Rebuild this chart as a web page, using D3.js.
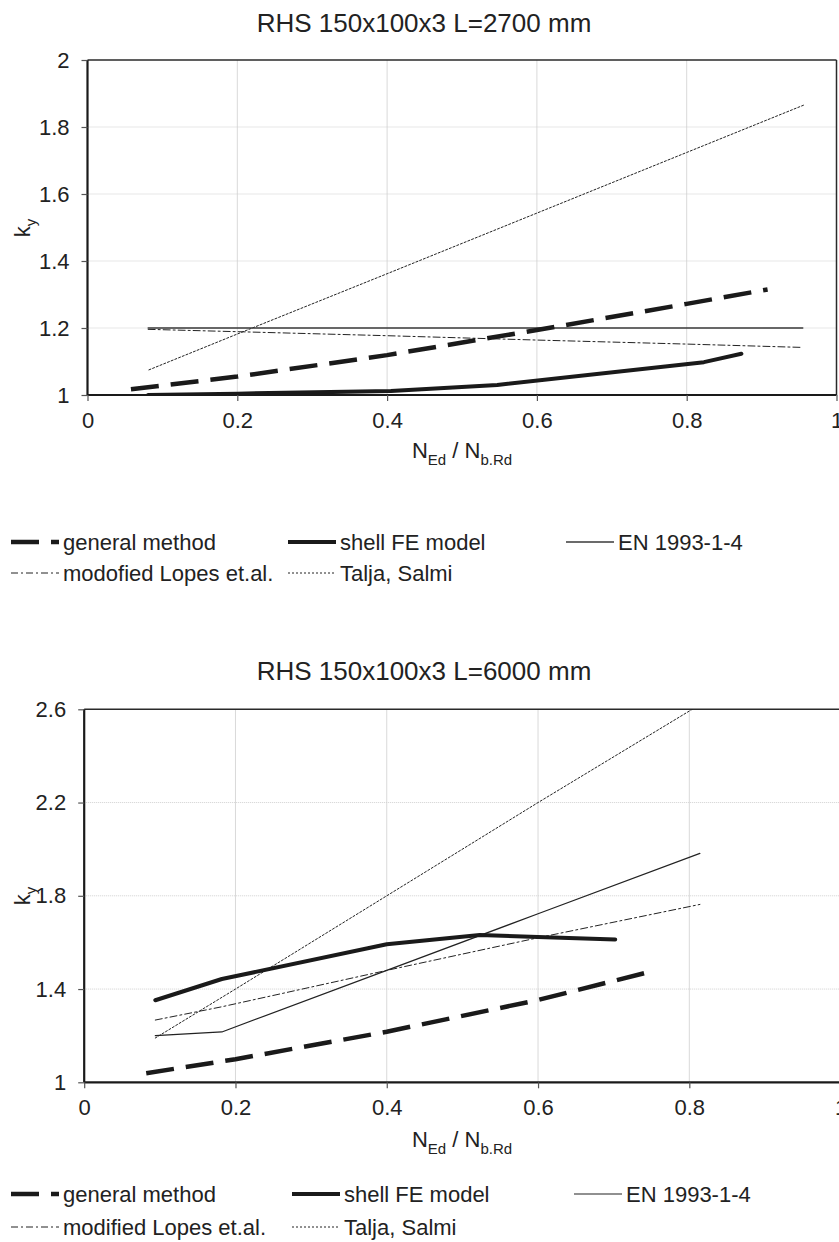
<!DOCTYPE html>
<html>
<head>
<meta charset="utf-8">
<script src="https://cdn.jsdelivr.net/npm/d3@7/dist/d3.min.js"></script>
<style>
  body { margin: 0; background: #fff; }
  svg { display: block; font-family: "Liberation Sans", Arial, sans-serif; }
</style>
</head>
<body>
<div id="chart"></div>
<script>
// --- data: upper chart, RHS 150x100x3 L=2700 mm ---
var generalA = [[0.058, 1.017], [0.2, 1.055], [0.4, 1.119], [0.6, 1.194], [0.8, 1.272], [0.908, 1.315]];
var shellA   = [[0.081, 1.0], [0.2, 1.004], [0.405, 1.012], [0.547, 1.03], [0.823, 1.098], [0.873, 1.123]];
var enA      = [[0.081, 1.2], [0.2, 1.2], [0.4, 1.2], [0.6, 1.2], [0.8, 1.2], [0.955, 1.2]];
var lopesA   = [[0.081, 1.196], [0.2, 1.189], [0.4, 1.177], [0.6, 1.164], [0.8, 1.152], [0.955, 1.142]];
var taljaA   = [[0.082, 1.075], [0.2, 1.182], [0.4, 1.362], [0.6, 1.543], [0.8, 1.724], [0.957, 1.866]];

// --- data: lower chart, RHS 150x100x3 L=6000 mm ---
var generalB = [[0.082, 1.039], [0.2, 1.099], [0.4, 1.217], [0.6, 1.353], [0.743, 1.47]];
var shellB   = [[0.094, 1.352], [0.182, 1.443], [0.4, 1.592], [0.523, 1.632], [0.6, 1.623], [0.702, 1.613]];
var enB      = [[0.094, 1.2], [0.182, 1.216], [0.4, 1.48], [0.6, 1.723], [0.814, 1.982]];
var lopesB   = [[0.094, 1.267], [0.182, 1.324], [0.4, 1.48], [0.6, 1.62], [0.814, 1.763]];
var taljaB   = [[0.094, 1.19], [0.2, 1.4], [0.4, 1.8], [0.6, 2.2], [0.814, 2.62]];

var xTicks  = [0, 0.2, 0.4, 0.6, 0.8, 1];
var yTicksA = [1, 1.2, 1.4, 1.6, 1.8, 2];
var yTicksB = [1, 1.4, 1.8, 2.2, 2.6];

var titleA = 'RHS 150x100x3 L=2700 mm';
var titleB = 'RHS 150x100x3 L=6000 mm';
var namesA = ['general method', 'shell FE model', 'EN 1993-1-4', 'modofied Lopes et.al.', 'Talja, Salmi'];
var namesB = ['general method', 'shell FE model', 'EN 1993-1-4', 'modified Lopes et.al.', 'Talja, Salmi'];

var styles = [
  { stroke: '#1a1a1a', width: 4.5, dash: '28,12' },
  { stroke: '#1a1a1a', width: 4, dash: null },
  { stroke: '#3a3a3a', width: 1.4, dash: null },
  { stroke: '#222', width: 1, dash: '7,3,2,3' },
  { stroke: '#222', width: 1, dash: '2,2' }
];

var W = 839, H = 1242;
var svg = d3.select('#chart').append('svg')
  .attr('width', W)
  .attr('height', H);

function drawPanel(cfg) {
  var g = svg.append('g');
  var x = d3.scaleLinear().domain([0, 1]).range([cfg.left, cfg.right]);
  var y = d3.scaleLinear().domain(cfg.yDomain).range([cfg.bottom, cfg.top]);

  var clipId = 'clip' + cfg.id;
  g.append('clipPath').attr('id', clipId)
    .append('rect')
    .attr('x', cfg.left).attr('y', cfg.top)
    .attr('width', cfg.right - cfg.left).attr('height', cfg.bottom - cfg.top);

  // grid
  g.selectAll('.vgrid').data(xTicks.slice(1, -1)).enter().append('line')
    .attr('x1', d => x(d)).attr('x2', d => x(d))
    .attr('y1', cfg.top).attr('y2', cfg.bottom)
    .attr('stroke', '#d9d9d9').attr('stroke-width', 1);
  g.selectAll('.hgrid').data(cfg.yTicks.slice(1, -1)).enter().append('line')
    .attr('x1', cfg.left).attr('x2', cfg.right)
    .attr('y1', d => y(d)).attr('y2', d => y(d))
    .attr('stroke', '#cfcfcf').attr('stroke-width', 1)
    .attr('stroke-dasharray', '1,1');

  // frame (top and right)
  g.append('line')
    .attr('x1', cfg.left).attr('x2', cfg.right)
    .attr('y1', cfg.top).attr('y2', cfg.top)
    .attr('stroke', '#2a2a2a').attr('stroke-width', 1.5);
  g.append('line')
    .attr('x1', cfg.right).attr('x2', cfg.right)
    .attr('y1', cfg.top).attr('y2', cfg.bottom)
    .attr('stroke', '#2a2a2a').attr('stroke-width', 1.5);

  // series
  var line = d3.line().x(d => x(d[0])).y(d => y(d[1]));
  var order = [4, 3, 2, 0, 1];
  order.forEach(function(i) {
    var st = cfg.styles ? cfg.styles[i] : styles[i];
    g.append('path')
      .datum(cfg.series[i])
      .attr('clip-path', 'url(#' + clipId + ')')
      .attr('d', line)
      .attr('fill', 'none')
      .attr('stroke', st.stroke)
      .attr('stroke-width', st.width)
      .attr('stroke-dasharray', st.dash)
      .attr('stroke-linejoin', 'round')
      .attr('stroke-linecap', i === 0 ? 'butt' : 'round');
  });

  // axes
  var xAxis = d3.axisBottom(x).tickValues(xTicks).tickSize(6).tickPadding(11)
    .tickFormat(d3.format('~g'));
  var gx = g.append('g').attr('transform', 'translate(0,' + cfg.bottom + ')').call(xAxis);
  var yAxis = d3.axisLeft(y).tickValues(cfg.yTicks).tickSize(6).tickPadding(12)
    .tickFormat(d3.format('~g'));
  var gy = g.append('g').attr('transform', 'translate(' + cfg.left + ',0)').call(yAxis);
  [gx, gy].forEach(function(a) {
    a.select('.domain').attr('stroke', '#1a1a1a').attr('stroke-width', 2.2);
    a.selectAll('.tick line').attr('stroke', '#555').attr('stroke-width', 1.2);
    a.selectAll('.tick text').attr('fill', '#222').style('font-size', '22px')
      .style('font-family', '"Liberation Sans", Arial, sans-serif');
  });
  gx.select('.domain').attr('d', 'M' + cfg.left + ',0H' + cfg.right);
  gy.select('.domain').attr('d', 'M0,' + cfg.bottom + 'V' + cfg.top);

  // title
  g.append('text')
    .attr('x', 424).attr('y', cfg.titleY)
    .attr('text-anchor', 'middle')
    .style('font-size', '26px').attr('fill', '#222')
    .text(cfg.title);

  // y label
  var yl = g.append('text')
    .attr('transform', 'translate(' + cfg.yLabelX + ',' + cfg.yLabelY + ') rotate(-90)')
    .attr('text-anchor', 'middle')
    .style('font-size', '22px').attr('fill', '#222');
  yl.append('tspan').text('k');
  yl.append('tspan').attr('dy', 6).style('font-size', '15px').text('y');

  // x label
  var xl = g.append('text')
    .attr('x', 462).attr('y', cfg.xLabelY)
    .attr('text-anchor', 'middle')
    .style('font-size', '22px').attr('fill', '#222');
  xl.append('tspan').text('N');
  xl.append('tspan').attr('dy', 7).style('font-size', '15px').text('Ed');
  xl.append('tspan').attr('dy', -7).text(' / N');
  xl.append('tspan').attr('dy', 7).style('font-size', '15px').text('b.Rd');

  // legend
  cfg.legend.forEach(function(item, i) {
    var st = cfg.styles ? cfg.styles[i] : styles[i];
    var lg = g.append('g');
    lg.append('line')
      .attr('x1', item[0]).attr('x2', item[0] + 48)
      .attr('y1', item[1]).attr('y2', item[1])
      .attr('stroke', st.stroke)
      .attr('stroke-width', st.width)
      .attr('stroke-dasharray', st.dash);
    lg.append('text')
      .attr('x', item[0] + 52).attr('y', item[1] + 7.5)
      .style('font-size', '22px').attr('fill', '#222')
      .text(cfg.names[i]);
  });
}

drawPanel({
  id: 'A', title: titleA, titleY: 32,
  left: 87.5, right: 836.5, top: 60, bottom: 395,
  yDomain: [1, 2], yTicks: yTicksA,
  series: [generalA, shellA, enA, lopesA, taljaA],
  names: namesA,
  yLabelX: 30, yLabelY: 228, xLabelY: 458,
  legend: [[11, 542], [288, 542], [566, 542], [11, 573], [288, 573]]
});

drawPanel({
  id: 'B', title: titleB, titleY: 680,
  left: 84.2, right: 840.6, top: 709.3, bottom: 1082.3,
  yDomain: [1, 2.6], yTicks: yTicksB,
  series: [generalB, shellB, enB, lopesB, taljaB],
  names: namesB,
  styles: [styles[0], styles[1], { stroke: '#222', width: 1.2, dash: null }, styles[3], styles[4]],
  yLabelX: 30, yLabelY: 896, xLabelY: 1147,
  legend: [[11, 1194], [292, 1194], [574, 1194], [11, 1227], [292, 1227]]
});
</script>
</body>
</html>
